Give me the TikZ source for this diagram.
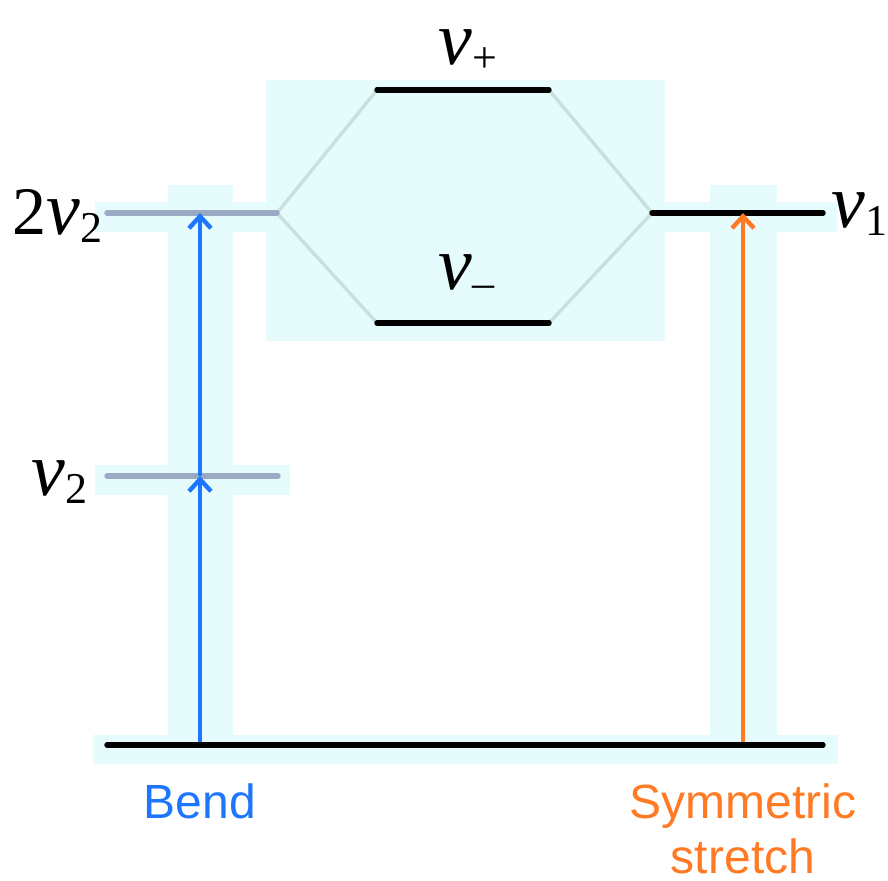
\documentclass[tikz,border=0pt]{standalone}
\usepackage{fontspec}
\setmainfont{Liberation Serif}
\newfontfamily\modefont{Liberation Sans}
\usetikzlibrary{arrows.meta}
\definecolor{glow}{RGB}{230,252,252}
\definecolor{bendblue}{RGB}{30,118,255}
\definecolor{stretchorange}{RGB}{255,122,35}
\definecolor{mixgray}{RGB}{155,170,195}
\definecolor{linkgreen}{RGB}{200,224,222}
% nu with a lowered index
\newcommand{\levlabel}[2]{{\fontsize{38}{38}\selectfont\itshape #1}\raisebox{-0.4em}{\fontsize{22}{22}\selectfont #2}}

\begin{document}
\begin{tikzpicture}[x=0.5pt, y=-0.5pt,
    level/.style={line width=2.7pt, line cap=round},
    link/.style={line width=1.7pt, draw=linkgreen},
    excite/.style={line width=2.2pt, -{Straight Barb[length=6pt, width=11pt, line width=2.2pt]}},
    lbl/.style={inner sep=0pt, anchor=base west},
    modelbl/.style={inner sep=0pt, font=\modefont\fontsize{24}{27.5}\selectfont, align=center}]
    \useasboundingbox (0,0) rectangle (888,881);
    % light background patches
    \fill[glow] (266,80) rectangle (665,341);
    \fill[glow] (168,185) rectangle (233,745);
    \fill[glow] (710,185) rectangle (777,745);
    \fill[glow] (95,202) rectangle (278,232);
    \fill[glow] (95,465) rectangle (290,495);
    \fill[glow] (640,202) rectangle (837,232);
    \fill[glow] (93,735) rectangle (838,764);
    % level end points
    \coordinate (twobend-l) at (107,213);  \coordinate (twobend-r) at (277,213);
    \coordinate (bend-l) at (107,476);     \coordinate (bend-r) at (278,476);
    \coordinate (plus-l) at (377,90);      \coordinate (plus-r) at (549,90);
    \coordinate (minus-l) at (377,323);    \coordinate (minus-r) at (549,323);
    \coordinate (sym-l) at (652,213);      \coordinate (sym-r) at (823,213);
    \coordinate (ground-l) at (107,745);   \coordinate (ground-r) at (823,745);
    % arrow feet and tips
    \coordinate (bendfoot) at (200,745);   \coordinate (bendmid) at (200,476);
    \coordinate (bendtop) at (200,213);
    \coordinate (symfoot) at (743,745);    \coordinate (symtop) at (743,213);
    % mixing
    \draw[link] (twobend-r) -- (plus-l);  \draw[link] (twobend-r) -- (minus-l);
    \draw[link] (sym-l) -- (plus-r);      \draw[link] (sym-l) -- (minus-r);
    % levels
    \draw[level, mixgray] (twobend-l) -- (twobend-r);
    \draw[level, mixgray] (bend-l) -- (bend-r);
    \draw[level] (plus-l) -- (plus-r);
    \draw[level] (minus-l) -- (minus-r);
    \draw[level] (sym-l) -- (sym-r);
    % transitions
    \draw[excite, bendblue] (bendfoot) -- (bendmid);
    \draw[excite, bendblue] (bendmid) -- (bendtop);
    \draw[excite, stretchorange] (symfoot) -- (symtop);
    \draw[level] (ground-l) -- (ground-r);
    % labels
    \node[lbl] (lbl-twobend) at (12,235) {{\fontsize{34}{34}\selectfont 2}\levlabel{ν}{2}};
    \node[lbl] (lbl-bend) at (31,495) {\levlabel{ν}{2}};
    \node[lbl] (lbl-sym) at (831,228) {\levlabel{ν}{1}};
    \node[lbl] (lbl-plus) at (438,65) {\levlabel{ν}{+}};
    \node[lbl] (lbl-minus) at (438,290) {\levlabel{ν}{–}};
    \node[modelbl, text=bendblue, anchor=base] (mode-bend) at (200,818) {Bend};
    \node[modelbl, text=stretchorange, anchor=base] (mode-sym) at (743,873) {Symmetric\\stretch};
\end{tikzpicture}
\end{document}
